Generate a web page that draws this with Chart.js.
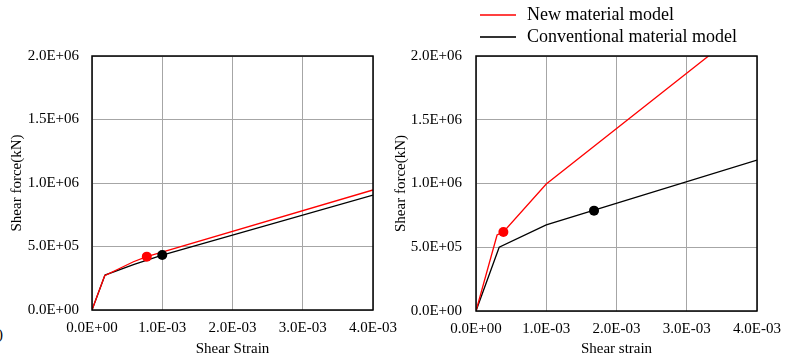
<!DOCTYPE html>
<html>
<head>
<meta charset="utf-8">
<script src="https://cdn.jsdelivr.net/npm/chart.js@4.4.0/dist/chart.umd.min.js"></script>
<style>
  body { margin:0; background:#fff; width:793px; height:358px; overflow:hidden; position:relative; }
  .box { position:absolute; top:0; height:358px; }
  #boxL { left:0; width:410px; }
  #boxR { left:388px; width:405px; }
  #mark { position:absolute; left:-2px; top:326px; font:15px "Liberation Serif", serif; }
</style>
</head>
<body>
<span id="mark">)</span>
<div class="box" id="boxL"><canvas id="chartL"></canvas></div>
<div class="box" id="boxR"><canvas id="chartR"></canvas></div>
<script>
// series names
var seriesNames = ['New material model', 'Conventional material model'];
var seriesColors = ['#ff0000', '#000000'];

// left chart (Shear Strain)
var leftNewX  = [0, 1.8e-4, 5.9e-4, 7.8e-4, 4.0e-3];
var leftNewY  = [0, 2.7e5, 3.8e5, 4.2e5, 9.45e5];
var leftConvX = [0, 1.85e-4, 6.0e-4, 1.0e-3, 4.0e-3];
var leftConvY = [0, 2.75e5, 3.6e5, 4.33e5, 9.05e5];
var leftDotNew  = [7.8e-4, 4.2e5];
var leftDotConv = [1.0e-3, 4.33e5];

// right chart (Shear strain)
var rightNewX  = [0, 3.0e-4, 3.9e-4, 1.0e-3, 4.0e-3];
var rightNewY  = [0, 5.96e5, 6.2e5, 9.96e5, 2.3e6];
var rightConvX = [0, 3.3e-4, 1.0e-3, 4.0e-3];
var rightConvY = [0, 5.0e5, 6.75e5, 1.184e6];
var rightDotNew  = [3.9e-4, 6.2e5];
var rightDotConv = [1.68e-3, 7.87e5];

// axis ranges / ticks
var xTicks = [0, 1e-3, 2e-3, 3e-3, 4e-3];
var yTicks = [0, 5e5, 1e6, 1.5e6, 2e6];

var serif = '"Liberation Serif", "Times New Roman", serif';

function fmt(v) {
  var s = Number(v).toExponential(1).split('e');
  var e = s[1];
  var sign = e[0] == '-' ? '-' : '+';
  var d = e.replace('-', '').replace('+', '');
  if (d.length < 2) d = '0' + d;
  return s[0] + 'E' + sign + d;
}

function pts(xs, ys) {
  var out = [];
  for (var i = 0; i < xs.length; i++) out.push({x: xs[i], y: ys[i]});
  return out;
}

var frame = {
  id: 'frame',
  afterDatasetsDraw: function(chart) {
    var a = chart.chartArea, ctx = chart.ctx;
    ctx.save();
    ctx.strokeStyle = '#000';
    ctx.lineWidth = 1.5;
    ctx.strokeRect(a.left, a.top, a.right - a.left, a.bottom - a.top);
    ctx.restore();
  }
};

var legendBox = {
  id: 'legendBox',
  afterDraw: function(chart) {
    var ctx = chart.ctx;
    var rows = [15, 37];
    ctx.save();
    ctx.font = '18px ' + serif;
    ctx.textBaseline = 'middle';
    ctx.fillStyle = '#000';
    for (var i = 0; i < seriesNames.length; i++) {
      ctx.strokeStyle = i == 0 ? seriesColors[0] : '#333';
      ctx.lineWidth = i == 0 ? 1.3 : 2;
      ctx.beginPath();
      ctx.moveTo(92, rows[i]);
      ctx.lineTo(128, rows[i]);
      ctx.stroke();
      ctx.fillText(seriesNames[i], 139, rows[i]);
    }
    ctx.restore();
  }
};

function makeChart(id, o) {
  var ctx = document.getElementById(id).getContext('2d');
  var tickFont = {family: serif, size: 15};
  return new Chart(ctx, {
    type: 'scatter',
    data: {
      datasets: [
        {label: 'dotNew', data: [{x: o.dotNew[0], y: o.dotNew[1]}], pointRadius: 5, pointBackgroundColor: seriesColors[0], pointBorderWidth: 0},
        {label: 'dotConv', data: [{x: o.dotConv[0], y: o.dotConv[1]}], pointRadius: 5, pointBackgroundColor: seriesColors[1], pointBorderWidth: 0},
        {label: seriesNames[0], data: pts(o.newX, o.newY), showLine: true, borderColor: seriesColors[0], borderWidth: 1.3, pointRadius: 0},
        {label: seriesNames[1], data: pts(o.convX, o.convY), showLine: true, borderColor: seriesColors[1], borderWidth: 1.3, pointRadius: 0}
      ]
    },
    options: {
      responsive: true,
      maintainAspectRatio: false,
      animation: false,
      devicePixelRatio: 1,
      layout: {padding: {top: 56, right: o.padRight, left: 0, bottom: 0}},
      plugins: {legend: {display: false}, tooltip: {enabled: false}},
      scales: {
        x: {
          type: 'linear', min: xTicks[0], max: xTicks[xTicks.length - 1],
          afterBuildTicks: function(s) { s.ticks = xTicks.map(function(v) { return {value: v}; }); },
          ticks: {callback: fmt, color: '#000', font: tickFont, padding: 9, maxRotation: 0},
          grid: {color: '#a6a6a6', drawTicks: false},
          border: {display: false},
          title: {display: true, text: o.xTitle, color: '#000', font: tickFont, padding: {top: 0, bottom: 0}},
          afterFit: function(s) { s.height = o.xHeight; }
        },
        y: {
          min: yTicks[0], max: yTicks[yTicks.length - 1],
          afterBuildTicks: function(s) { s.ticks = yTicks.map(function(v) { return {value: v}; }); },
          ticks: {callback: fmt, color: '#000', font: tickFont, padding: o.tickPad},
          grid: {color: '#a6a6a6', drawTicks: false},
          border: {display: false},
          title: {display: true, text: 'Shear force(kN)', color: '#000', font: tickFont, padding: {top: o.titlePad, bottom: 0}},
          afterFit: function(s) { s.width = o.yWidth; }
        }
      }
    },
    plugins: o.legend ? [frame, legendBox] : [frame]
  });
}

makeChart('chartL', {
  newX: leftNewX, newY: leftNewY, convX: leftConvX, convY: leftConvY,
  dotNew: leftDotNew, dotConv: leftDotConv,
  xTitle: 'Shear Strain', padRight: 37, yWidth: 92, xHeight: 48, tickPad: 13, titlePad: 8, legend: false
});

makeChart('chartR', {
  newX: rightNewX, newY: rightNewY, convX: rightConvX, convY: rightConvY,
  dotNew: rightDotNew, dotConv: rightDotConv,
  xTitle: 'Shear strain', padRight: 36, yWidth: 88, xHeight: 47, tickPad: 14, titlePad: 4, legend: true
});
</script>
</body>
</html>
